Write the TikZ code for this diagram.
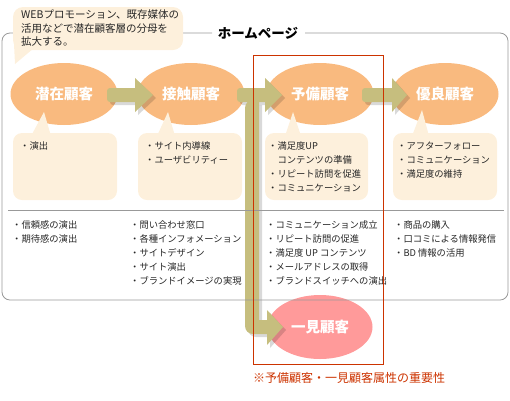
\documentclass[tikz,border=0pt]{standalone}
\usepackage{fontspec}
\setmainfont{Noto Sans CJK JP}
\usetikzlibrary{shapes.geometric}
\definecolor{peach}{HTML}{F9BA7F}
\definecolor{cream}{HTML}{FDF0DC}
\definecolor{olivebar}{HTML}{C6BE7E}
\definecolor{pinkish}{HTML}{FF9A9A}
\definecolor{redline}{HTML}{CC3300}
\definecolor{framegray}{HTML}{999999}
\pgfdeclarelayer{bg}
\pgfdeclarelayer{mid}
\pgfsetlayers{bg,mid,main}
\tikzset{
  stage/.style={ellipse, minimum width=107pt, minimum height=62pt, inner sep=0pt,
    text=white, font=\fontsize{14.5}{16}\selectfont\bfseries},
  subbox/.style={fill=cream, rounded corners=9pt},
  listtext/.style={anchor=north west, inner sep=0pt, align=left, text=black!85,
    font=\fontsize{9.3}{14}\selectfont},
  arrowfill/.style={fill=olivebar},
  arrowshadow/.style={fill=black, opacity=0.15},
}
\newcommand{\olivearrow}[4][]{%
  \fill[#1] (#3,88) -- (#3,78) -- (#4,95) -- (#3,112) -- (#3,102)
    [rounded corners=3pt] -- (#2,102) -- (#2,88) [sharp corners] -- cycle;}
\begin{document}
\begin{tikzpicture}[x=1pt,y=-1pt]
\useasboundingbox (0,0) rectangle (510,400);
% frame
\draw[framegray, line width=0.8pt, rounded corners=8pt] (212,33) -- (2,33) -- (2,300) -- (508,300) -- (508,33) -- (305,33);
\node[font=\fontsize{13.5}{15}\selectfont\bfseries, inner sep=0pt] (title) at (258,33) {ホームページ};
% callout
\fill[cream, rounded corners=10pt] (13,7) rectangle (183,50);
\fill[cream] (14,44) -- (15,64) -- (34,48) -- (34,44) -- cycle;
\node[anchor=north west, inner sep=0pt, align=left, text=black!85, font=\fontsize{10.5}{13.5}\selectfont] (callout) at (21,9.5)
  {WEBプロモーション、既存媒体の\\活用などで潜在顧客層の分母を\\拡大する。};
% separator
\draw[framegray, line width=0.8pt] (8,210) -- (504,210);
% stages (labels on main layer, fills on background layer)
\node[stage] (senzai) at (64,94) {潜在顧客};
\node[stage] (sesshoku) at (191,94) {接触顧客};
\node[stage] (yobi) at (320,94) {予備顧客};
\node[stage] (yuryo) at (445,94) {優良顧客};
\node[stage, minimum width=105pt, minimum height=64pt] (ichigen) at (320,327) {一見顧客};
\begin{pgfonlayer}{bg}
\fill[peach] (senzai.center) ellipse [x radius=53.5, y radius=31];
\fill[peach] (sesshoku.center) ellipse [x radius=53.5, y radius=31];
\fill[peach] (yobi.center) ellipse [x radius=53.5, y radius=31];
\fill[peach] (yuryo.center) ellipse [x radius=53.5, y radius=31];
\fill[pinkish] (ichigen.center) ellipse [x radius=52.5, y radius=32];
\end{pgfonlayer}
% sub boxes
\fill[subbox] (13,133) rectangle (117,200);
\fill[cream] (31,136) -- (44,112) -- (51,136) -- cycle;
\fill[subbox] (138,133) rectangle (242,200);
\fill[cream] (157,136) -- (168,112) -- (175,136) -- cycle;
\fill[subbox] (265,133) rectangle (368,200);
\fill[cream] (285,136) -- (293,112) -- (301,136) -- cycle;
\fill[subbox] (393,133) rectangle (497,200);
\fill[cream] (412,136) -- (422,110) -- (429,136) -- cycle;
\node[listtext] (b1) at (20,141.5) {・演出};
\node[listtext] (b2) at (145,141.5) {・サイト内導線\\・ユーザビリティー};
\node[listtext] (b3) at (268,141.5) {・満足度UP\\　コンテンツの準備\\・リピート訪問を促進\\・コミュニケーション};
\node[listtext] (b4) at (397,141.5) {・アフターフォロー\\・コミュニケーション\\・満足度の維持};
% bottom lists
\node[listtext] (l1) at (12,220.5) {・信頼感の演出\\・期待感の演出};
\node[listtext] (l2) at (130,220.5) {・問い合わせ窓口\\・各種インフォメーション\\・サイトデザイン\\・サイト演出\\・ブランドイメージの実現};
\node[listtext] (l3) at (266,220.5) {・コミュニケーション成立\\・リピート訪問の促進\\・満足度 UP コンテンツ\\・メールアドレスの取得\\・ブランドスイッチへの演出};
\node[listtext] (l4) at (394,220.5) {・商品の購入\\・口コミによる情報発信\\・BD 情報の活用};
% arrows
\begin{pgfonlayer}{mid}
\begin{scope}[shift={(3,3)}]
\olivearrow[arrowshadow]{107}{135}{153}
\olivearrow[arrowshadow]{237}{265}{282}
\olivearrow[arrowshadow]{362}{392}{407}
\fill[arrowshadow] (259,102) -- (259,320) -- (267,320) -- (267,310) -- (283,327) -- (267,345) -- (267,334)
  [rounded corners=8pt] -- (245,334) -- (245,102) [sharp corners] -- cycle;
\end{scope}
\olivearrow[arrowfill]{107}{135}{153}
\olivearrow[arrowfill]{237}{265}{282}
\olivearrow[arrowfill]{362}{392}{407}
\fill[arrowfill] (259,100) -- (259,320) -- (267,320) -- (267,310) -- (283,327) -- (267,345) -- (267,334)
  [rounded corners=8pt] -- (245,334) -- (245,100) [sharp corners] -- cycle;
\end{pgfonlayer}
% red frame
\draw[redline, line width=0.9pt] (253,55) rectangle (383,364);
\node[anchor=west, inner sep=0pt, text=redline, font=\fontsize{12}{14}\selectfont] (note) at (253,378) {※予備顧客・一見顧客属性の重要性};
\end{tikzpicture}
\end{document}
